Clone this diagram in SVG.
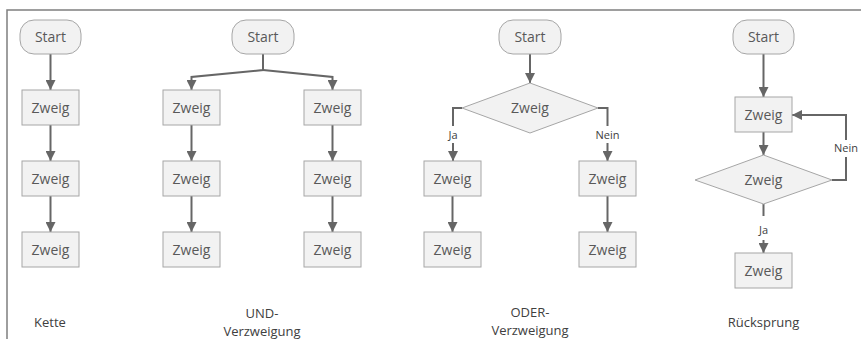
<svg xmlns="http://www.w3.org/2000/svg" width="861" height="339" viewBox="0 0 861 339">
<style>
.bg{fill:#ffffff}
.term{fill:#f2f2f2;stroke:#a6a6a6;stroke-width:1}
.box{fill:#f2f2f2;stroke:#a6a6a6;stroke-width:1}
.dia{fill:#f2f2f2;stroke:#a6a6a6;stroke-width:1}
.t{font-family:"Open Sans","Noto Sans","Liberation Sans",sans-serif;font-size:14px;fill:#595959;text-anchor:middle}
.lab{font-family:"Open Sans","Noto Sans","Liberation Sans",sans-serif;font-size:13px;fill:#404040;text-anchor:middle}
.el{font-family:"Open Sans","Noto Sans","Liberation Sans",sans-serif;font-size:11px;fill:#404040;text-anchor:middle}
.c{fill:none;stroke:#666666;stroke-width:2}
.frame{fill:none;stroke:#7f7f7f;stroke-width:1.5}
</style>
<defs>
<marker id="ah" viewBox="0 0 10 10" refX="10" refY="5" markerWidth="5" markerHeight="5" orient="auto" markerUnits="strokeWidth">
<path d="M0,0 L10,5 L0,10 z" fill="#666666"/>
</marker>
</defs>
<rect class="bg" x="0" y="0" width="861" height="339"/>
<path class="frame" d="M7,339 V10 H861"/>

<g id="connectors">
<path class="c" d="M50.5,54 V90" marker-end="url(#ah)"/>
<path class="c" d="M50.5,125 V161" marker-end="url(#ah)"/>
<path class="c" d="M50.5,196 V232" marker-end="url(#ah)"/>

<path class="c" d="M263,54 V70 L191.5,77 V90" marker-end="url(#ah)"/>
<path class="c" d="M263,70 L332.5,77 V90" marker-end="url(#ah)"/>
<path class="c" d="M191.5,125 V161" marker-end="url(#ah)"/>
<path class="c" d="M191.5,196 V232" marker-end="url(#ah)"/>
<path class="c" d="M332.5,125 V161" marker-end="url(#ah)"/>
<path class="c" d="M332.5,196 V232" marker-end="url(#ah)"/>

<path class="c" d="M530,54 V83" marker-end="url(#ah)"/>
<path class="c" d="M462,108 H453 V161" marker-end="url(#ah)"/>
<path class="c" d="M598,108 H607.5 V161" marker-end="url(#ah)"/>
<path class="c" d="M452.5,196 V232" marker-end="url(#ah)"/>
<path class="c" d="M607.5,196 V232" marker-end="url(#ah)"/>

<path class="c" d="M763.5,54 V97" marker-end="url(#ah)"/>
<path class="c" d="M763.5,132 V155" marker-end="url(#ah)"/>
<path class="c" d="M832,180 H846 V115 H792" marker-end="url(#ah)"/>
<path class="c" d="M763.5,204 V253" marker-end="url(#ah)"/>

<rect x="443" y="126" width="20" height="17" fill="#ffffff"/>
<text class="el" x="453" y="139">Ja</text>
<rect x="593" y="126" width="30" height="17" fill="#ffffff"/>
<text class="el" x="607.5" y="139">Nein</text>
<rect x="831" y="140" width="30" height="17" fill="#ffffff"/>
<text class="el" x="846" y="152">Nein</text>
<rect x="753" y="216" width="20" height="24" fill="#ffffff"/>
<text class="el" x="763.5" y="234">Ja</text>
</g>

<g id="kette-start"><rect class="term" x="20" y="20" width="61" height="34" rx="14"/><text class="t" x="50.5" y="42">Start</text></g>
<g id="kette-z1"><rect class="box" x="22" y="90" width="57" height="35"/><text class="t" x="50.5" y="112.5">Zweig</text></g>
<g id="kette-z2"><rect class="box" x="22" y="161" width="57" height="35"/><text class="t" x="50.5" y="183.5">Zweig</text></g>
<g id="kette-z3"><rect class="box" x="22" y="232" width="57" height="35"/><text class="t" x="50.5" y="254.5">Zweig</text></g>

<g id="und-start"><rect class="term" x="232" y="20" width="62" height="34" rx="14"/><text class="t" x="263" y="42">Start</text></g>
<g id="und-l1"><rect class="box" x="163" y="90" width="57" height="35"/><text class="t" x="191.5" y="112.5">Zweig</text></g>
<g id="und-l2"><rect class="box" x="163" y="161" width="57" height="35"/><text class="t" x="191.5" y="183.5">Zweig</text></g>
<g id="und-l3"><rect class="box" x="163" y="232" width="57" height="35"/><text class="t" x="191.5" y="254.5">Zweig</text></g>
<g id="und-r1"><rect class="box" x="304" y="90" width="57" height="35"/><text class="t" x="332.5" y="112.5">Zweig</text></g>
<g id="und-r2"><rect class="box" x="304" y="161" width="57" height="35"/><text class="t" x="332.5" y="183.5">Zweig</text></g>
<g id="und-r3"><rect class="box" x="304" y="232" width="57" height="35"/><text class="t" x="332.5" y="254.5">Zweig</text></g>

<g id="oder-start"><rect class="term" x="499" y="20" width="62" height="34" rx="14"/><text class="t" x="530" y="42">Start</text></g>
<g id="oder-dia"><polygon class="dia" points="530,83 598,108 530,133 462,108"/><text class="t" x="530" y="113">Zweig</text></g>
<g id="oder-l1"><rect class="box" x="424" y="161" width="57" height="35"/><text class="t" x="452.5" y="183.5">Zweig</text></g>
<g id="oder-l2"><rect class="box" x="424" y="232" width="57" height="35"/><text class="t" x="452.5" y="254.5">Zweig</text></g>
<g id="oder-r1"><rect class="box" x="579" y="161" width="57" height="35"/><text class="t" x="607.5" y="183.5">Zweig</text></g>
<g id="oder-r2"><rect class="box" x="579" y="232" width="57" height="35"/><text class="t" x="607.5" y="254.5">Zweig</text></g>

<g id="rs-start"><rect class="term" x="733" y="20" width="61" height="34" rx="14"/><text class="t" x="763.5" y="42">Start</text></g>
<g id="rs-z1"><rect class="box" x="735" y="97" width="57" height="35"/><text class="t" x="763.5" y="119.5">Zweig</text></g>
<g id="rs-dia"><polygon class="dia" points="763.5,155 832,180 763.5,204 695,180"/><text class="t" x="763.5" y="185">Zweig</text></g>
<g id="rs-z2"><rect class="box" x="735" y="253" width="57" height="35"/><text class="t" x="763.5" y="275.5">Zweig</text></g>

<g id="labels">
<text class="lab" x="50" y="327">Kette</text>
<text class="lab" x="262" y="318">UND-</text>
<text class="lab" x="262" y="336">Verzweigung</text>
<text class="lab" x="530" y="317">ODER-</text>
<text class="lab" x="530" y="335">Verzweigung</text>
<text class="lab" x="763.5" y="327">Rücksprung</text>
</g>
</svg>
